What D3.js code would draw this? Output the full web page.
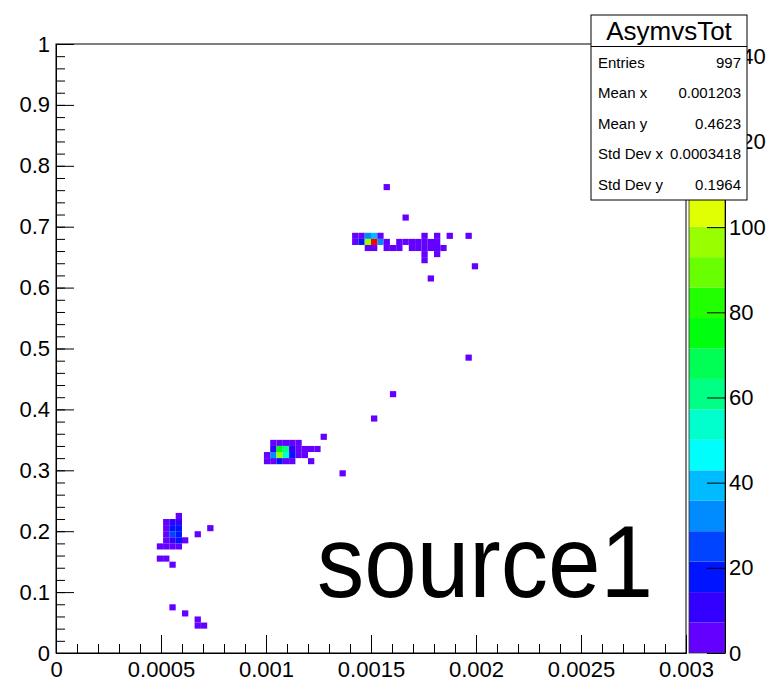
<!DOCTYPE html>
<html>
<head>
<meta charset="utf-8">
<script src="https://cdnjs.cloudflare.com/ajax/libs/d3/7.8.5/d3.min.js"></script>
<style>
  body { margin: 0; background: #fff; }
  text { font-family: "Liberation Sans", Arial, Helvetica, sans-serif; }
</style>
</head>
<body>
<script>
// 2D histogram AsymvsTot, 100 x 100 bins, filled cells only (lower bin edges + content)
var binW = 0.00003;
var binH = 0.01;

var cellX = [
  0.00141, 0.00144, 0.00147, 0.0015, 0.00153, 0.00174, 0.0018, 0.00186, 0.00195,
  0.00141, 0.00144, 0.00147, 0.0015, 0.00153, 0.00156, 0.00162, 0.00165, 0.00168, 0.00171, 0.00174, 0.00177, 0.0018,
  0.00147, 0.0015, 0.00156, 0.00159, 0.00162, 0.00168, 0.00171, 0.00174, 0.00177, 0.0018, 0.00183,
  0.00174, 0.0018, 0.00174, 0.00198, 0.00177, 0.00165, 0.00156,
  0.00126,
  0.00102, 0.00105, 0.00108, 0.00111, 0.00114,
  0.00102, 0.00105, 0.00108, 0.00111, 0.00114, 0.00117, 0.0012, 0.00123,
  0.00099, 0.00102, 0.00105, 0.00108, 0.00111, 0.00114, 0.00117,
  0.00099, 0.00102, 0.00105, 0.00108, 0.00111, 0.0012,
  0.00135,
  0.00057,
  0.00051, 0.00054, 0.00057,
  0.00051, 0.00054, 0.00057, 0.00072,
  0.00051, 0.00054, 0.00057, 0.00066,
  0.00051, 0.00054, 0.00057, 0.0006,
  0.00048, 0.00051, 0.00054, 0.00057,
  0.00048, 0.00051, 0.00054,
  0.00054, 0.0006, 0.00066, 0.00066, 0.00069,
  0.0015, 0.00159, 0.00195
];
var cellY = [
  0.68, 0.68, 0.68, 0.68, 0.68, 0.68, 0.68, 0.68, 0.68,
  0.67, 0.67, 0.67, 0.67, 0.67, 0.67, 0.67, 0.67, 0.67, 0.67, 0.67, 0.67, 0.67,
  0.66, 0.66, 0.66, 0.66, 0.66, 0.66, 0.66, 0.66, 0.66, 0.66, 0.66,
  0.65, 0.65, 0.64, 0.63, 0.61, 0.71, 0.76,
  0.35,
  0.34, 0.34, 0.34, 0.34, 0.34,
  0.33, 0.33, 0.33, 0.33, 0.33, 0.33, 0.33, 0.33,
  0.32, 0.32, 0.32, 0.32, 0.32, 0.32, 0.32,
  0.31, 0.31, 0.31, 0.31, 0.31, 0.31,
  0.29,
  0.22,
  0.21, 0.21, 0.21,
  0.2, 0.2, 0.2, 0.2,
  0.19, 0.19, 0.19, 0.19,
  0.18, 0.18, 0.18, 0.18,
  0.17, 0.17, 0.17, 0.17,
  0.15, 0.15, 0.14,
  0.07, 0.06, 0.05, 0.04, 0.04,
  0.38, 0.42, 0.48
];
var cellZ = [
  4, 5, 32, 40, 5, 2, 2, 1, 1,
  5, 18, 96, 143, 30, 4, 2, 3, 2, 3, 5, 4, 3,
  6, 5, 3, 2, 2, 3, 4, 3, 4, 3, 2,
  2, 1, 1, 1, 1, 1, 1,
  1,
  5, 6, 6, 5, 3,
  10, 74, 60, 12, 6, 4, 3, 2,
  4, 32, 97, 56, 15, 5, 2,
  3, 5, 17, 6, 4, 1,
  1,
  2,
  4, 11, 12,
  5, 17, 19, 1,
  5, 25, 20, 1,
  5, 11, 16, 3,
  3, 4, 4, 3,
  2, 2, 1,
  1, 1, 1, 1, 1,
  1, 1, 1
];

var xTicks = [0, 0.0005, 0.001, 0.0015, 0.002, 0.0025, 0.003];
var yTicks = [0, 0.1, 0.2, 0.3, 0.4, 0.5, 0.6, 0.7, 0.8, 0.9, 1];
var zTicks = [0, 20, 40, 60, 80, 100, 120, 140];

var statNames = ["Entries", "Mean x", "Mean y", "Std Dev x", "Std Dev y"];
var statValues = ["997", "0.001203", "0.4623", "0.0003418", "0.1964"];

buildIt();

function buildIt () {

  var w = 774;
  var h = 683;
  var left = 56, right = 686, top = 44, bottom = 653;
  var nLevels = 20;
  var zMax = d3.max(cellZ);

  var svg = d3.select("body")
    .append("svg")
    .attr("width", w)
    .attr("height", h);

  svg.append("rect")
    .attr("width", w)
    .attr("height", h)
    .attr("fill", "#fff");

  var xScale = d3.scaleLinear()
    .domain([0, 0.003])
    .range([left, right]);

  var yScale = d3.scaleLinear()
    .domain([0, 1])
    .range([bottom, top]);

  var zScale = d3.scaleLinear()
    .domain([0, zMax])
    .range([bottom, top]);

  // old ROOT "pretty" palette: 50 hues 280 -> 0, sampled into 20 contour levels
  var levelColors = d3.range(nLevels).map(function (k) {
    var idx = Math.floor((k + 0.99) * 50 / nLevels);
    var hue = 280 - (idx + 1) * 5.6;
    return d3.hsl(hue, 1, 0.5).formatHex();
  });

  var colorScale = d3.scaleQuantize()
    .domain([0, zMax])
    .range(levelColors);

  /* ===== CELLS =====*/

  var cells = cellZ.map(function (z, i) {
    return { x: cellX[i], y: cellY[i], z: z };
  });

  svg.append("g")
    .selectAll("rect")
    .data(cells)
    .enter()
    .append("rect")
    .attr("x", function (d) { return xScale(d.x); })
    .attr("y", function (d) { return yScale(d.y + binH); })
    .attr("width", function (d) { return xScale(d.x + binW) - xScale(d.x); })
    .attr("height", function (d) { return yScale(d.y) - yScale(d.y + binH); })
    .attr("fill", function (d) { return colorScale(Math.min(d.z, zMax * 0.9999)); });

  /* ===== FRAME + AXES =====*/

  svg.append("rect")
    .attr("x", left)
    .attr("y", top)
    .attr("width", right - left)
    .attr("height", bottom - top)
    .attr("fill", "none")
    .attr("stroke", "#000")
    .attr("stroke-width", 1);

  var xMinor = svg.append("g")
    .attr("transform", "translate(0," + bottom + ")")
    .call(d3.axisBottom(xScale).ticks(30).tickSize(-9).tickFormat(""));

  var xAxis = svg.append("g")
    .attr("transform", "translate(0," + bottom + ")")
    .call(d3.axisBottom(xScale)
      .tickValues(xTicks)
      .tickSizeInner(-18)
      .tickSizeOuter(0)
      .tickPadding(8)
      .tickFormat(function (d) { return d3.format("")(+d.toFixed(4)); }));

  var yMinor = svg.append("g")
    .attr("transform", "translate(" + left + ",0)")
    .call(d3.axisLeft(yScale).ticks(50).tickSize(-9).tickFormat(""));

  var yAxis = svg.append("g")
    .attr("transform", "translate(" + left + ",0)")
    .call(d3.axisLeft(yScale)
      .tickValues(yTicks)
      .tickSizeInner(-18)
      .tickSizeOuter(0)
      .tickPadding(6)
      .tickFormat(function (d) { return d3.format("")(+d.toFixed(1)); }));

  [xMinor, xAxis, yMinor, yAxis].forEach(function (g) {
    g.selectAll("line").attr("stroke", "#000");
    g.select(".domain").attr("stroke", "#000");
    g.selectAll("text")
      .attr("fill", "#000")
      .attr("font-size", "22px")
      .attr("font-family", "Liberation Sans, Arial, sans-serif");
  });

  /* ===== PALETTE =====*/

  var palX = 689, palW = 36;
  var step = zMax / nLevels;

  svg.append("g")
    .selectAll("rect")
    .data(levelColors)
    .enter()
    .append("rect")
    .attr("x", palX)
    .attr("y", function (d, k) { return zScale((k + 1) * step); })
    .attr("width", palW)
    .attr("height", function (d, k) { return zScale(k * step) - zScale((k + 1) * step); })
    .attr("fill", function (d) { return d; });

  svg.append("rect")
    .attr("x", palX)
    .attr("y", top)
    .attr("width", palW)
    .attr("height", bottom - top)
    .attr("fill", "none")
    .attr("stroke", "#333")
    .attr("stroke-width", 0.8);

  // palette axis: the stats box below hides the upper labels, as in the original
  var zAxis = svg.append("g")
    .attr("transform", "translate(" + (palX + palW) + ",0)")
    .call(d3.axisRight(zScale)
      .tickValues(zTicks)
      .tickSizeInner(-18)
      .tickSizeOuter(0)
      .tickPadding(4));

  zAxis.selectAll("line").attr("stroke", "#000");
  zAxis.select(".domain").attr("stroke", "#000");
  zAxis.selectAll("text")
    .attr("fill", "#000")
    .attr("font-size", "22px")
    .attr("font-family", "Liberation Sans, Arial, sans-serif");

  /* ===== STATS BOX =====*/

  var sx = 591, sy = 15, sw = 156, sh = 185;
  var stats = svg.append("g");

  stats.append("rect")
    .attr("x", sx)
    .attr("y", sy)
    .attr("width", sw)
    .attr("height", sh)
    .attr("fill", "#fff")
    .attr("stroke", "#000")
    .attr("stroke-width", 1);

  stats.append("line")
    .attr("x1", sx)
    .attr("x2", sx + sw)
    .attr("y1", 46.5)
    .attr("y2", 46.5)
    .attr("stroke", "#000");

  stats.append("text")
    .attr("x", sx + sw / 2)
    .attr("y", 40)
    .attr("text-anchor", "middle")
    .attr("font-size", "26px")
    .text("AsymvsTot");

  statNames.forEach(function (name, i) {
    var by = 67.5 + i * 30.6;
    stats.append("text")
      .attr("x", 598)
      .attr("y", by)
      .attr("font-size", "15px")
      .text(name);
    stats.append("text")
      .attr("x", 741)
      .attr("y", by)
      .attr("text-anchor", "end")
      .attr("font-size", "15px")
      .text(statValues[i]);
  });

  /* ===== LABEL =====*/

  svg.append("text")
    .attr("x", 317)
    .attr("y", 597)
    .attr("font-size", "102px")
    .attr("font-family", "Inter, Liberation Sans, Arial, sans-serif")
    .attr("font-weight", 300)
    .attr("textLength", 336)
    .attr("lengthAdjust", "spacingAndGlyphs")
    .text("source1");
}
</script>
</body>
</html>
